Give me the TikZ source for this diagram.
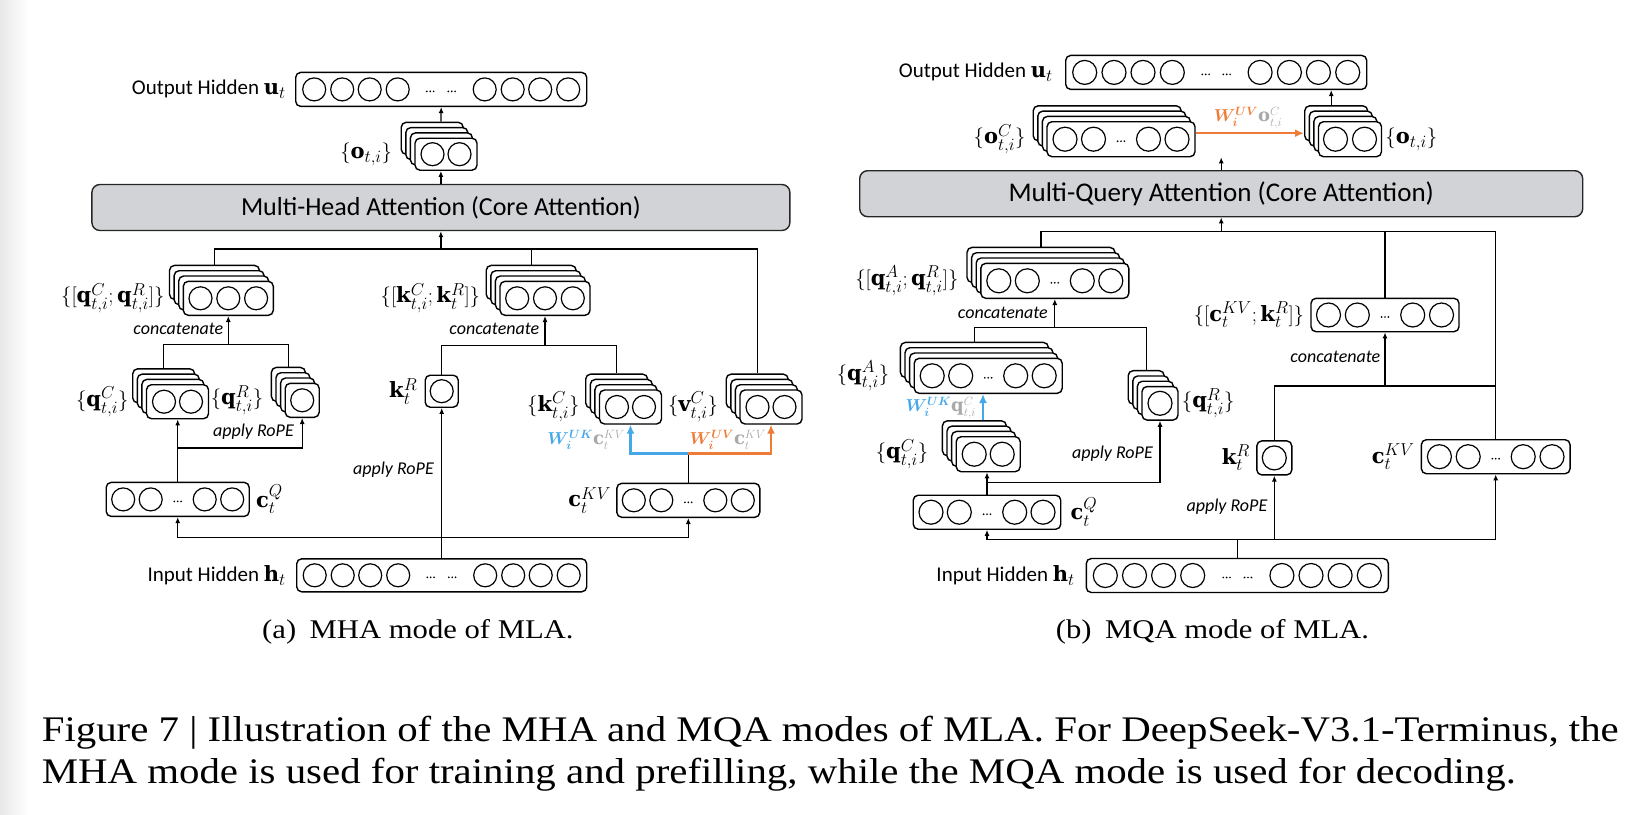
\documentclass[tikz,border=0pt]{standalone}
\usepackage{amsmath,amssymb,bm}
\usepackage{fontspec}
\setmainfont{Carlito}
\setmathrm{DejaVu Serif}
\newfontfamily\capfont[FakeStretch=1.135]{Liberation Serif}
\DeclareMathSizes{21}{21}{16}{12}
\DeclareMathSizes{18}{18}{12.6}{10}
\usepackage{tikz}
\usetikzlibrary{arrows.meta,positioning,calc,shadows}
\definecolor{AttnFill}{HTML}{D1D3D6}
\definecolor{UKBlue}{HTML}{46A8E8}
\definecolor{UVOrange}{HTML}{EE7B37}
\definecolor{LatGray}{HTML}{A9A9A9}
\tikzset{>={Latex[length=6pt,width=5pt]},
 vec/.style={draw,line width=1.4pt,rounded corners=5pt,fill=white,inner sep=0pt,minimum height=34pt},
 stack/.style={vec,
  general shadow={shadow xshift=-13.8pt,shadow yshift=15.9pt,fill=white,draw,line width=1.4pt},
  general shadow={shadow xshift=-9.2pt,shadow yshift=10.6pt,fill=white,draw,line width=1.4pt},
  general shadow={shadow xshift=-4.6pt,shadow yshift=5.3pt,fill=white,draw,line width=1.4pt}},
 attn/.style={draw=black!85,line width=1.4pt,rounded corners=8pt,fill=AttnFill,minimum height=46pt,
  inner sep=0pt,font=\fontsize{26}{28}\selectfont},
 cell/.style={line width=1.2pt},
 link/.style={line width=1.3pt},
 lab/.style={inner sep=0pt,font=\fontsize{21}{24}\selectfont},
 wlab/.style={inner sep=0pt,font=\fontsize{18}{20}\selectfont},
 note/.style={inner sep=0pt,font=\fontsize{18}{20}\selectfont\itshape},
 ukarrow/.style={draw=UKBlue,line width=2.4pt,-{Latex[length=9pt,width=8pt]}},
 uvarrow/.style={draw=UVOrange,line width=2.4pt,-{Latex[length=9pt,width=8pt]}},
 subcap/.style={inner sep=0pt,font=\capfont\fontsize{27}{30}\selectfont},
 figcap/.style={inner sep=0pt,anchor=base west,font=\capfont\fontsize{36}{42}\selectfont}}
\newcommand{\cellr}{11.5pt}
\newcommand{\cells}[2]{\foreach \cx in {#2}{\draw[cell] (#1.center) ++(\cx,0) circle (\cellr);}}
\newcommand{\celldots}[2]{\foreach \cx in {#2}{\foreach \d in {-3.4,0,3.4}{\fill (#1.center) ++({\cx+\d},2) circle (0.95pt);}}}
\newcommand{\backtop}[1]{\coordinate (#1-b) at ($(#1.north)+(-13.8pt,15.9pt)$);}

\begin{document}
\begin{tikzpicture}[x=1pt,y=-1pt]
\useasboundingbox (0,0) rectangle (1632,814);
\shade[left color=black!9,right color=white] (0,0) rectangle (28,814);

% ---------------- (a) MHA mode ----------------
\node[vec,minimum width=291pt] (outA) at (441.2,89.4) {};
\cells{outA}{-127,-99,-71.5,-43.5,43.5,71.5,99,127}
\celldots{outA}{-11,10.5}
\node[lab,left=9pt of outA] (outAlab) {Output Hidden $\mathbf{u}_t$};

\node[stack,minimum width=62pt,minimum height=32pt] (oA) at (446,154.2) {};
\cells{oA}{-13.5,13.5}
\backtop{oA}
\node[lab,left=22pt of oA] (oAlab) {$\{\mathbf{o}_{t,i}\}$};

\node[attn,minimum width=698pt] (attA) at (440.9,207.5) {Multi-Head Attention (Core Attention)};

\node[stack,minimum width=90pt] (qcatA) at (228.3,298.3) {};
\cells{qcatA}{-27.8,0,27.8}
\backtop{qcatA}
\node[lab,left=18pt of qcatA] (qcatAlab) {$\{[\mathbf{q}^{C}_{t,i};\mathbf{q}^{R}_{t,i}]\}$};

\node[stack,minimum width=90pt] (kcatA) at (545,298.3) {};
\cells{kcatA}{-27.8,0,27.8}
\backtop{kcatA}
\node[lab,left=19pt of kcatA] (kcatAlab) {$\{[\mathbf{k}^{C}_{t,i};\mathbf{k}^{R}_{t}]\}$};

\node[stack,minimum width=62pt] (qCA) at (177.5,401.7) {};
\cells{qCA}{-13.5,13.5}
\backtop{qCA}
\node[lab,left=17pt of qCA] (qCAlab) {$\{\mathbf{q}^{C}_{t,i}\}$};

\node[stack,minimum width=34pt] (qRA) at (302.2,400.3) {};
\cells{qRA}{0}
\backtop{qRA}
\node[lab,left=21pt of qRA] (qRAlab) {$\{\mathbf{q}^{R}_{t,i}\}$};

\node[vec,minimum width=33pt,minimum height=32pt] (kRA) at (441.7,391.2) {};
\cells{kRA}{0}
\node[lab,left=7pt of kRA] (kRAlab) {$\mathbf{k}^{R}_{t}$};

\node[stack,minimum width=62pt] (kCA) at (630.5,407) {};
\cells{kCA}{-13.5,13.5}
\backtop{kCA}
\node[lab,left=19pt of kCA] (kCAlab) {$\{\mathbf{k}^{C}_{t,i}\}$};

\node[stack,minimum width=62pt] (vCA) at (771,407) {};
\cells{vCA}{-13.5,13.5}
\backtop{vCA}
\node[lab,left=21pt of vCA] (vCAlab) {$\{\mathbf{v}^{C}_{t,i}\}$};

\node[vec,minimum width=143pt] (cQA) at (177.7,499.4) {};
\cells{cQA}{-54.5,-27,27,54.5}
\celldots{cQA}{0}
\node[lab,right=6pt of cQA] (cQAlab) {$\mathbf{c}^{Q}_{t}$};

\node[vec,minimum width=143pt] (cKVA) at (688.3,500.3) {};
\cells{cKVA}{-54.5,-27,27,54.5}
\celldots{cKVA}{0}
\node[lab,left=5pt of cKVA] (cKVAlab) {$\mathbf{c}^{KV}_{t}$};

\node[vec,minimum width=290pt,minimum height=33pt] (hA) at (441.7,575.3) {};
\cells{hA}{-127,-99,-71.5,-43.5,43.5,71.5,99,127}
\celldots{hA}{-11,10.5}
\node[lab,left=10pt of hA] (hAlab) {Input Hidden $\mathbf{h}_t$};

% connectors (a)
\coordinate (hjA) at (441.7,537.7);
\draw[link,->] (hA.north) -- (kRA.south);
\draw[link,->] (hjA) -| (cQA.south);
\draw[link,->] (hjA) -| (cKVA.south);
\node[note,anchor=east] (ropeA2) at (434,470) {apply RoPE};

\coordinate (qjA) at ($(cQA.north)+(0,33.7pt)$);
\draw[link] (cQA.north) -- (qjA);
\draw[link,->] (qjA) -- (qjA |- qCA.south);
\draw[link,->] (qjA) -| (qRA.south);
\node[note,anchor=east] (ropeA1) at (294,431.7) {apply RoPE};

\coordinate (qcjA) at ($(qcatA.south)+(0,-28.3pt)$);
\draw[link] (qCA-b) |- (qcjA) -| (qRA-b);
\draw[link,->] (qcjA) -- (qcatA.south);
\node[note,anchor=east] (catA1) at (223.5,329) {concatenate};

\coordinate (kcjA) at ($(kcatA.south)+(0,-29.3pt)$);
\draw[link] (kRA.north) |- (kcjA) -| (kCA-b);
\draw[link,->] (kcjA) -- (kcatA.south);
\node[note,anchor=east] (catA2) at (539.5,329) {concatenate};

\coordinate (kvjA) at ($(cKVA.north)+(0,29pt)$);
\draw[link] (cKVA.north) -- (kvjA);
\draw[ukarrow] (kvjA) -| (kCA.south);
\draw[uvarrow] (kvjA) -| (vCA.south);
\node[wlab,anchor=east] (ukAlab) at (625,440)
 {\color{UKBlue}$\bm{W_i^{UK}}$\color{LatGray}$\mathbf{c}_t^{KV}$};
\node[wlab,anchor=east] (uvAlab) at (766,440)
 {\color{UVOrange}$\bm{W_i^{UV}}$\color{LatGray}$\mathbf{c}_t^{KV}$};

\coordinate (busA) at (440.9,249);
\draw[link] (qcatA-b) |- (busA) -| (vCA-b);
\draw[link] (kcatA-b) |- (busA);
\draw[link,->] (busA) -- (attA.south);
\draw[link,->] (attA.north) -- (attA.north |- oA.south);
\draw[link,->] (attA.north |- oA-b) -- (outA.south);

\node[subcap] (subA) at (417.9,632) {(a)\enspace MHA mode of MLA.};

% ---------------- (b) MQA mode ----------------
\renewcommand{\cellr}{12pt}
\node[vec,minimum width=301pt] (outB) at (1216.2,72.4) {};
\cells{outB}{-131.5,-102.2,-73.2,-43.9,43.9,73.2,102.2,131.5}
\celldots{outB}{-10.5,10.5}
\node[lab,left=12pt of outB] (outBlab) {Output Hidden $\mathbf{u}_t$};

\node[stack,minimum width=148pt,minimum height=35pt] (oCB) at (1121,139.2) {};
\cells{oCB}{-56,-27.5,27.5,56}
\celldots{oCB}{0}
\node[lab,left=20.6pt of oCB] (oCBlab) {$\{\mathbf{o}^{C}_{t,i}\}$};

\node[stack,minimum width=63pt,minimum height=35pt] (oB) at (1350,139.2) {};
\cells{oB}{-14.5,14.5}
\backtop{oB}
\node[lab,right=3pt of oB] (oBlab) {$\{\mathbf{o}_{t,i}\}$};

\node[attn,minimum width=723pt,font=\fontsize{27}{29}\selectfont] (attB) at (1221.2,193.7) {Multi-Query Attention (Core Attention)};

\node[stack,minimum width=148pt,minimum height=35pt] (qcatB) at (1054.8,280.8) {};
\cells{qcatB}{-56,-27.5,27.5,56}
\celldots{qcatB}{0}
\backtop{qcatB}
\node[lab,left=21.4pt of qcatB] (qcatBlab) {$\{[\mathbf{q}^{A}_{t,i};\mathbf{q}^{R}_{t,i}]\}$};

\node[stack,minimum width=148pt,minimum height=35pt] (qAB) at (988.2,375.8) {};
\cells{qAB}{-56,-27.5,27.5,56}
\celldots{qAB}{0}
\backtop{qAB}
\node[lab,left=24pt of qAB] (qABlab) {$\{\mathbf{q}^{A}_{t,i}\}$};

\node[stack,minimum width=36pt,minimum height=33.5pt] (qRB) at (1160,403.3) {};
\cells{qRB}{0}
\backtop{qRB}
\node[lab,right=3pt of qRB] (qRBlab) {$\{\mathbf{q}^{R}_{t,i}\}$};

\node[stack,minimum width=64pt,minimum height=35pt] (qCB) at (988.2,454.2) {};
\cells{qCB}{-14,14}
\backtop{qCB}
\node[lab,left=27pt of qCB] (qCBlab) {$\{\mathbf{q}^{C}_{t,i}\}$};

\node[vec,minimum width=147.5pt] (cQB) at (987,512.2) {};
\cells{cQB}{-56,-27.7,27.7,56}
\celldots{cQB}{0}
\node[lab,right=9pt of cQB] (cQBlab) {$\mathbf{c}^{Q}_{t}$};

\node[vec,minimum width=35pt] (kRB) at (1274.3,457.9) {};
\cells{kRB}{0}
\node[lab,left=6pt of kRB] (kRBlab) {$\mathbf{k}^{R}_{t}$};

\node[vec,minimum width=148.7pt] (cKVB) at (1495.7,456.7) {};
\cells{cKVB}{-56.3,-27.5,27.5,56.3}
\celldots{cKVB}{0}
\node[lab,left=6pt of cKVB] (cKVBlab) {$\mathbf{c}^{KV}_{t}$};

\node[vec,minimum width=148pt,minimum height=33.4pt] (ckB) at (1385,315) {};
\cells{ckB}{-56.5,-27.7,27.7,56.5}
\celldots{ckB}{0}
\node[lab,left=6pt of ckB] (ckBlab) {$\{[\mathbf{c}^{KV}_{t};\mathbf{k}^{R}_{t}]\}$};

\node[vec,minimum width=302pt] (hB) at (1237.3,575.5) {};
\cells{hB}{-132,-102.8,-73.7,-44.6,44.6,73.7,102.8,132}
\celldots{hB}{-10.7,10.7}
\node[lab,left=10.7pt of hB] (hBlab) {Input Hidden $\mathbf{h}_t$};

% connectors (b)
\coordinate (hjB) at ($(hB.north)+(0,18.3pt)$);
\draw[link] (hB.north) -- (hjB);
\draw[link,->] (hjB) -| (cQB.south);
\draw[link,->] (hjB) -| (cKVB.south);
\draw[link,->] (kRB.south |- hjB) -- (kRB.south);
\node[note,anchor=east] (ropeB2) at (1267.5,506.7) {apply RoPE};

\coordinate (qjB) at ($(cQB.north)+(0,11.7pt)$);
\draw[link] (cQB.north) -- (qjB);
\draw[link,->] (qjB) -- (qjB |- qCB.south);
\draw[link,->] (qjB) -| (qRB.south);
\node[note,anchor=east] (ropeB1) at (1153,453.3) {apply RoPE};

\draw[ukarrow] (qCB-b) ++(8.6,0) coordinate (ukB) -- (ukB |- qAB.south);
\node[wlab,anchor=east] (ukBlab) at (976,408)
 {\color{UKBlue}$\bm{W_i^{UK}}$\color{LatGray}$\mathbf{q}_{t,i}^{C}$};

\coordinate (qcjB) at ($(qcatB.south)+(0,-28.4pt)$);
\draw[link] (qAB-b) |- (qcjB) -| (qRB-b);
\draw[link,->] (qcjB) -- (qcatB.south);
\node[note,anchor=east] (catB1) at (1048,313.3) {concatenate};

\coordinate (kvjB) at (cKVB.north |- 0,386);
\draw[link] (kRB.north) |- (kvjB);
\draw[link,->] (ckB.south |- kvjB) -- (ckB.south);
\node[note,anchor=east] (catB2) at (1380.5,356.7) {concatenate};

\coordinate (busB) at (1221.2,231.7);
\draw[link] (qcatB-b) |- (busB) -| (cKVB.north);
\draw[link] (ckB.north) |- (busB);
\draw[link,->] (busB) -- (attB.south);
\draw[link,->] (attB.north) -- (attB.north |- oCB.south);

\draw[uvarrow] ($(oCB.east)+(0,6pt)$) -- ($(oB.west)+(-13.8pt,6pt)$);
\node[wlab] (uvBlab) at (1248,118)
 {\color{UVOrange}$\bm{W_i^{UV}}$\color{LatGray}$\mathbf{o}_{t,i}^{C}$};
\draw[link,->] (oB-b) ++(-5,0) coordinate (oBup) -- (oBup |- outB.south);

\node[subcap] (subB) at (1212.5,632) {(b)\enspace MQA mode of MLA.};

% caption
\node[figcap] (capL1) at (41.6,741) {Figure 7 | Illustration of the MHA and MQA modes of MLA. For DeepSeek-V3.1-Terminus, the};
\node[figcap] (capL2) at (41.6,783) {MHA mode is used for training and prefilling, while the MQA mode is used for decoding.};
\end{tikzpicture}
\end{document}
